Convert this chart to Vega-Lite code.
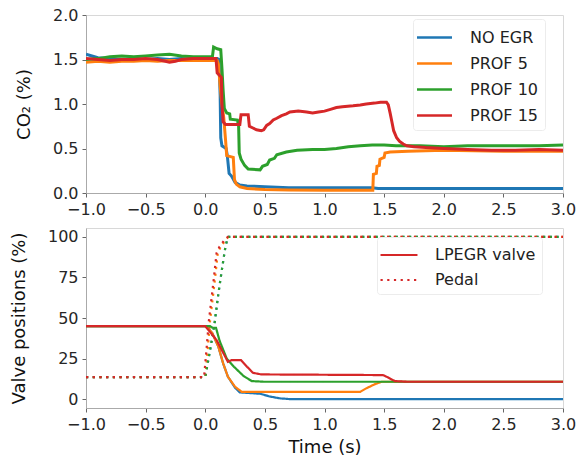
{
  "$schema": "https://vega.github.io/schema/vega-lite/v6.json",
  "padding": {"left": 9, "top": 6, "right": 10, "bottom": 5},
  "background": "white",
  "config": {
    "font": "DejaVu Sans",
    "view": {"stroke": "#d8d8d8", "strokeWidth": 1},
    "axis": {"grid": false, "domainColor": "#aaaaaa", "tickColor": "#666666", "tickSize": 4, "labelFontSize": 16, "labelColor": "#262626", "titleFontSize": 18, "titleFontWeight": "normal", "titleColor": "#111111", "labelPadding": 4, "titlePadding": 19, "labelFlush": false, "labelOverlap": false},
    "legend": {"orient": "none", "title": null, "labelFontSize": 16, "labelColor": "#222222", "strokeColor": "#ececec", "fillColor": "white", "padding": 6, "cornerRadius": 3, "rowPadding": 5, "symbolSize": 484, "symbolType": "M-1.59,0H1.59", "symbolOffset": 3, "labelOffset": 23}
  },
  "datasets": {
    "co2": [
      {"t": -1.0, "v": 1.56, "s": "NO EGR"}, {"t": -0.95, "v": 1.54, "s": "NO EGR"}, {"t": -0.9, "v": 1.52, "s": "NO EGR"}, {"t": -0.8, "v": 1.51, "s": "NO EGR"}, {"t": -0.7, "v": 1.50, "s": "NO EGR"}, {"t": -0.6, "v": 1.51, "s": "NO EGR"}, {"t": -0.5, "v": 1.50, "s": "NO EGR"}, {"t": -0.4, "v": 1.51, "s": "NO EGR"}, {"t": -0.3, "v": 1.50, "s": "NO EGR"}, {"t": -0.2, "v": 1.51, "s": "NO EGR"}, {"t": -0.1, "v": 1.50, "s": "NO EGR"}, {"t": 0.0, "v": 1.51, "s": "NO EGR"}, {"t": 0.1, "v": 1.51, "s": "NO EGR"}, {"t": 0.115, "v": 1.50, "s": "NO EGR"}, {"t": 0.125, "v": 1.10, "s": "NO EGR"}, {"t": 0.13, "v": 0.62, "s": "NO EGR"}, {"t": 0.14, "v": 0.53, "s": "NO EGR"}, {"t": 0.175, "v": 0.50, "s": "NO EGR"}, {"t": 0.185, "v": 0.42, "s": "NO EGR"}, {"t": 0.2, "v": 0.22, "s": "NO EGR"}, {"t": 0.22, "v": 0.19, "s": "NO EGR"}, {"t": 0.25, "v": 0.12, "s": "NO EGR"}, {"t": 0.29, "v": 0.09, "s": "NO EGR"}, {"t": 0.35, "v": 0.08, "s": "NO EGR"}, {"t": 0.5, "v": 0.07, "s": "NO EGR"}, {"t": 0.7, "v": 0.06, "s": "NO EGR"}, {"t": 1.0, "v": 0.06, "s": "NO EGR"}, {"t": 1.4, "v": 0.06, "s": "NO EGR"}, {"t": 1.45, "v": 0.05, "s": "NO EGR"}, {"t": 2.0, "v": 0.05, "s": "NO EGR"}, {"t": 2.5, "v": 0.05, "s": "NO EGR"}, {"t": 3.0, "v": 0.05, "s": "NO EGR"},
      {"t": -1.0, "v": 1.47, "s": "PROF 5"}, {"t": -0.9, "v": 1.48, "s": "PROF 5"}, {"t": -0.8, "v": 1.47, "s": "PROF 5"}, {"t": -0.7, "v": 1.48, "s": "PROF 5"}, {"t": -0.6, "v": 1.48, "s": "PROF 5"}, {"t": -0.5, "v": 1.49, "s": "PROF 5"}, {"t": -0.4, "v": 1.48, "s": "PROF 5"}, {"t": -0.3, "v": 1.49, "s": "PROF 5"}, {"t": -0.2, "v": 1.49, "s": "PROF 5"}, {"t": -0.1, "v": 1.49, "s": "PROF 5"}, {"t": 0.0, "v": 1.49, "s": "PROF 5"}, {"t": 0.1, "v": 1.49, "s": "PROF 5"}, {"t": 0.11, "v": 1.45, "s": "PROF 5"}, {"t": 0.125, "v": 1.20, "s": "PROF 5"}, {"t": 0.14, "v": 1.00, "s": "PROF 5"}, {"t": 0.155, "v": 0.85, "s": "PROF 5"}, {"t": 0.17, "v": 0.60, "s": "PROF 5"}, {"t": 0.18, "v": 0.42, "s": "PROF 5"}, {"t": 0.235, "v": 0.40, "s": "PROF 5"}, {"t": 0.245, "v": 0.15, "s": "PROF 5"}, {"t": 0.26, "v": 0.10, "s": "PROF 5"}, {"t": 0.29, "v": 0.07, "s": "PROF 5"}, {"t": 0.35, "v": 0.05, "s": "PROF 5"}, {"t": 0.5, "v": 0.04, "s": "PROF 5"}, {"t": 0.7, "v": 0.035, "s": "PROF 5"}, {"t": 1.0, "v": 0.03, "s": "PROF 5"}, {"t": 1.405, "v": 0.03, "s": "PROF 5"}, {"t": 1.41, "v": 0.21, "s": "PROF 5"}, {"t": 1.435, "v": 0.22, "s": "PROF 5"}, {"t": 1.44, "v": 0.30, "s": "PROF 5"}, {"t": 1.46, "v": 0.31, "s": "PROF 5"}, {"t": 1.465, "v": 0.38, "s": "PROF 5"}, {"t": 1.5, "v": 0.40, "s": "PROF 5"}, {"t": 1.507, "v": 0.45, "s": "PROF 5"}, {"t": 1.55, "v": 0.46, "s": "PROF 5"}, {"t": 1.7, "v": 0.47, "s": "PROF 5"}, {"t": 2.0, "v": 0.48, "s": "PROF 5"}, {"t": 2.5, "v": 0.47, "s": "PROF 5"}, {"t": 3.0, "v": 0.47, "s": "PROF 5"},
      {"t": -1.0, "v": 1.50, "s": "PROF 10"}, {"t": -0.9, "v": 1.51, "s": "PROF 10"}, {"t": -0.8, "v": 1.53, "s": "PROF 10"}, {"t": -0.7, "v": 1.54, "s": "PROF 10"}, {"t": -0.6, "v": 1.53, "s": "PROF 10"}, {"t": -0.5, "v": 1.54, "s": "PROF 10"}, {"t": -0.4, "v": 1.55, "s": "PROF 10"}, {"t": -0.3, "v": 1.56, "s": "PROF 10"}, {"t": -0.2, "v": 1.54, "s": "PROF 10"}, {"t": -0.1, "v": 1.53, "s": "PROF 10"}, {"t": 0.0, "v": 1.53, "s": "PROF 10"}, {"t": 0.06, "v": 1.53, "s": "PROF 10"}, {"t": 0.07, "v": 1.64, "s": "PROF 10"}, {"t": 0.1, "v": 1.62, "s": "PROF 10"}, {"t": 0.13, "v": 1.61, "s": "PROF 10"}, {"t": 0.14, "v": 1.40, "s": "PROF 10"}, {"t": 0.15, "v": 1.15, "s": "PROF 10"}, {"t": 0.16, "v": 0.95, "s": "PROF 10"}, {"t": 0.18, "v": 0.90, "s": "PROF 10"}, {"t": 0.205, "v": 0.89, "s": "PROF 10"}, {"t": 0.21, "v": 0.83, "s": "PROF 10"}, {"t": 0.27, "v": 0.82, "s": "PROF 10"}, {"t": 0.28, "v": 0.75, "s": "PROF 10"}, {"t": 0.285, "v": 0.45, "s": "PROF 10"}, {"t": 0.30, "v": 0.38, "s": "PROF 10"}, {"t": 0.33, "v": 0.31, "s": "PROF 10"}, {"t": 0.36, "v": 0.27, "s": "PROF 10"}, {"t": 0.46, "v": 0.26, "s": "PROF 10"}, {"t": 0.48, "v": 0.30, "s": "PROF 10"}, {"t": 0.52, "v": 0.32, "s": "PROF 10"}, {"t": 0.54, "v": 0.37, "s": "PROF 10"}, {"t": 0.58, "v": 0.39, "s": "PROF 10"}, {"t": 0.6, "v": 0.43, "s": "PROF 10"}, {"t": 0.68, "v": 0.46, "s": "PROF 10"}, {"t": 0.77, "v": 0.48, "s": "PROF 10"}, {"t": 0.9, "v": 0.49, "s": "PROF 10"}, {"t": 1.0, "v": 0.49, "s": "PROF 10"}, {"t": 1.1, "v": 0.50, "s": "PROF 10"}, {"t": 1.2, "v": 0.52, "s": "PROF 10"}, {"t": 1.3, "v": 0.53, "s": "PROF 10"}, {"t": 1.4, "v": 0.54, "s": "PROF 10"}, {"t": 1.5, "v": 0.54, "s": "PROF 10"}, {"t": 1.6, "v": 0.53, "s": "PROF 10"}, {"t": 1.8, "v": 0.53, "s": "PROF 10"}, {"t": 2.0, "v": 0.52, "s": "PROF 10"}, {"t": 2.2, "v": 0.53, "s": "PROF 10"}, {"t": 2.5, "v": 0.53, "s": "PROF 10"}, {"t": 2.8, "v": 0.53, "s": "PROF 10"}, {"t": 3.0, "v": 0.54, "s": "PROF 10"},
      {"t": -1.0, "v": 1.51, "s": "PROF 15"}, {"t": -0.9, "v": 1.50, "s": "PROF 15"}, {"t": -0.8, "v": 1.49, "s": "PROF 15"}, {"t": -0.7, "v": 1.50, "s": "PROF 15"}, {"t": -0.6, "v": 1.50, "s": "PROF 15"}, {"t": -0.5, "v": 1.51, "s": "PROF 15"}, {"t": -0.4, "v": 1.50, "s": "PROF 15"}, {"t": -0.3, "v": 1.47, "s": "PROF 15"}, {"t": -0.25, "v": 1.48, "s": "PROF 15"}, {"t": -0.2, "v": 1.50, "s": "PROF 15"}, {"t": -0.1, "v": 1.51, "s": "PROF 15"}, {"t": 0.0, "v": 1.51, "s": "PROF 15"}, {"t": 0.09, "v": 1.51, "s": "PROF 15"}, {"t": 0.1, "v": 1.35, "s": "PROF 15"}, {"t": 0.12, "v": 1.32, "s": "PROF 15"}, {"t": 0.135, "v": 1.30, "s": "PROF 15"}, {"t": 0.14, "v": 1.00, "s": "PROF 15"}, {"t": 0.15, "v": 0.80, "s": "PROF 15"}, {"t": 0.17, "v": 0.77, "s": "PROF 15"}, {"t": 0.29, "v": 0.77, "s": "PROF 15"}, {"t": 0.30, "v": 0.88, "s": "PROF 15"}, {"t": 0.36, "v": 0.88, "s": "PROF 15"}, {"t": 0.37, "v": 0.75, "s": "PROF 15"}, {"t": 0.40, "v": 0.73, "s": "PROF 15"}, {"t": 0.43, "v": 0.71, "s": "PROF 15"}, {"t": 0.47, "v": 0.70, "s": "PROF 15"}, {"t": 0.49, "v": 0.71, "s": "PROF 15"}, {"t": 0.515, "v": 0.76, "s": "PROF 15"}, {"t": 0.54, "v": 0.78, "s": "PROF 15"}, {"t": 0.57, "v": 0.82, "s": "PROF 15"}, {"t": 0.60, "v": 0.84, "s": "PROF 15"}, {"t": 0.64, "v": 0.87, "s": "PROF 15"}, {"t": 0.68, "v": 0.89, "s": "PROF 15"}, {"t": 0.71, "v": 0.91, "s": "PROF 15"}, {"t": 0.78, "v": 0.92, "s": "PROF 15"}, {"t": 0.85, "v": 0.91, "s": "PROF 15"}, {"t": 0.9, "v": 0.90, "s": "PROF 15"}, {"t": 0.95, "v": 0.91, "s": "PROF 15"}, {"t": 1.0, "v": 0.92, "s": "PROF 15"}, {"t": 1.05, "v": 0.94, "s": "PROF 15"}, {"t": 1.1, "v": 0.96, "s": "PROF 15"}, {"t": 1.15, "v": 0.97, "s": "PROF 15"}, {"t": 1.24, "v": 0.98, "s": "PROF 15"}, {"t": 1.3, "v": 0.99, "s": "PROF 15"}, {"t": 1.35, "v": 1.00, "s": "PROF 15"}, {"t": 1.42, "v": 1.01, "s": "PROF 15"}, {"t": 1.47, "v": 1.02, "s": "PROF 15"}, {"t": 1.52, "v": 1.02, "s": "PROF 15"}, {"t": 1.535, "v": 0.99, "s": "PROF 15"}, {"t": 1.55, "v": 0.90, "s": "PROF 15"}, {"t": 1.565, "v": 0.80, "s": "PROF 15"}, {"t": 1.58, "v": 0.70, "s": "PROF 15"}, {"t": 1.605, "v": 0.62, "s": "PROF 15"}, {"t": 1.63, "v": 0.58, "s": "PROF 15"}, {"t": 1.66, "v": 0.55, "s": "PROF 15"}, {"t": 1.69, "v": 0.53, "s": "PROF 15"}, {"t": 1.75, "v": 0.52, "s": "PROF 15"}, {"t": 1.85, "v": 0.51, "s": "PROF 15"}, {"t": 2.0, "v": 0.50, "s": "PROF 15"}, {"t": 2.2, "v": 0.49, "s": "PROF 15"}, {"t": 2.4, "v": 0.48, "s": "PROF 15"}, {"t": 2.6, "v": 0.48, "s": "PROF 15"}, {"t": 2.8, "v": 0.49, "s": "PROF 15"}, {"t": 3.0, "v": 0.48, "s": "PROF 15"}
    ],
    "valve": [
      {"t": -1.0, "v": 13.5, "s": "NO EGR", "k": "Pedal"}, {"t": 0.0, "v": 13.5, "s": "NO EGR", "k": "Pedal"}, {"t": 0.04, "v": 30, "s": "NO EGR", "k": "Pedal"}, {"t": 0.075, "v": 45, "s": "NO EGR", "k": "Pedal"}, {"t": 0.11, "v": 65, "s": "NO EGR", "k": "Pedal"}, {"t": 0.14, "v": 80, "s": "NO EGR", "k": "Pedal"}, {"t": 0.165, "v": 92, "s": "NO EGR", "k": "Pedal"}, {"t": 0.185, "v": 99, "s": "NO EGR", "k": "Pedal"}, {"t": 0.195, "v": 100, "s": "NO EGR", "k": "Pedal"}, {"t": 3.0, "v": 100, "s": "NO EGR", "k": "Pedal"},
      {"t": -1.0, "v": 13.5, "s": "PROF 5", "k": "Pedal"}, {"t": 0.0, "v": 13.5, "s": "PROF 5", "k": "Pedal"}, {"t": 0.02, "v": 30, "s": "PROF 5", "k": "Pedal"}, {"t": 0.04, "v": 48, "s": "PROF 5", "k": "Pedal"}, {"t": 0.08, "v": 73, "s": "PROF 5", "k": "Pedal"}, {"t": 0.105, "v": 90, "s": "PROF 5", "k": "Pedal"}, {"t": 0.13, "v": 94, "s": "PROF 5", "k": "Pedal"}, {"t": 0.18, "v": 99, "s": "PROF 5", "k": "Pedal"}, {"t": 0.195, "v": 100, "s": "PROF 5", "k": "Pedal"}, {"t": 3.0, "v": 100, "s": "PROF 5", "k": "Pedal"},
      {"t": -1.0, "v": 13.5, "s": "PROF 10", "k": "Pedal"}, {"t": 0.0, "v": 13.5, "s": "PROF 10", "k": "Pedal"}, {"t": 0.04, "v": 30, "s": "PROF 10", "k": "Pedal"}, {"t": 0.075, "v": 45, "s": "PROF 10", "k": "Pedal"}, {"t": 0.11, "v": 65, "s": "PROF 10", "k": "Pedal"}, {"t": 0.14, "v": 80, "s": "PROF 10", "k": "Pedal"}, {"t": 0.165, "v": 92, "s": "PROF 10", "k": "Pedal"}, {"t": 0.185, "v": 99, "s": "PROF 10", "k": "Pedal"}, {"t": 0.195, "v": 100, "s": "PROF 10", "k": "Pedal"}, {"t": 3.0, "v": 100, "s": "PROF 10", "k": "Pedal"},
      {"t": -1.0, "v": 13.5, "s": "PROF 15", "k": "Pedal"}, {"t": -0.01, "v": 13.5, "s": "PROF 15", "k": "Pedal"}, {"t": 0.01, "v": 30, "s": "PROF 15", "k": "Pedal"}, {"t": 0.03, "v": 48, "s": "PROF 15", "k": "Pedal"}, {"t": 0.07, "v": 73, "s": "PROF 15", "k": "Pedal"}, {"t": 0.095, "v": 90, "s": "PROF 15", "k": "Pedal"}, {"t": 0.12, "v": 94, "s": "PROF 15", "k": "Pedal"}, {"t": 0.17, "v": 99, "s": "PROF 15", "k": "Pedal"}, {"t": 0.19, "v": 100, "s": "PROF 15", "k": "Pedal"}, {"t": 3.0, "v": 100, "s": "PROF 15", "k": "Pedal"},
      {"t": -1.0, "v": 45, "s": "NO EGR", "k": "LPEGR valve"}, {"t": 0.01, "v": 45, "s": "NO EGR", "k": "LPEGR valve"}, {"t": 0.06, "v": 40.5, "s": "NO EGR", "k": "LPEGR valve"}, {"t": 0.11, "v": 32.3, "s": "NO EGR", "k": "LPEGR valve"}, {"t": 0.15, "v": 22, "s": "NO EGR", "k": "LPEGR valve"}, {"t": 0.19, "v": 13.8, "s": "NO EGR", "k": "LPEGR valve"}, {"t": 0.25, "v": 7, "s": "NO EGR", "k": "LPEGR valve"}, {"t": 0.29, "v": 4.1, "s": "NO EGR", "k": "LPEGR valve"}, {"t": 0.46, "v": 3.3, "s": "NO EGR", "k": "LPEGR valve"}, {"t": 0.54, "v": 1.6, "s": "NO EGR", "k": "LPEGR valve"}, {"t": 0.63, "v": 0.4, "s": "NO EGR", "k": "LPEGR valve"}, {"t": 0.71, "v": 0, "s": "NO EGR", "k": "LPEGR valve"}, {"t": 3.0, "v": 0, "s": "NO EGR", "k": "LPEGR valve"},
      {"t": -1.0, "v": 45, "s": "PROF 5", "k": "LPEGR valve"}, {"t": 0.01, "v": 45, "s": "PROF 5", "k": "LPEGR valve"}, {"t": 0.06, "v": 40.5, "s": "PROF 5", "k": "LPEGR valve"}, {"t": 0.11, "v": 32.3, "s": "PROF 5", "k": "LPEGR valve"}, {"t": 0.15, "v": 22, "s": "PROF 5", "k": "LPEGR valve"}, {"t": 0.19, "v": 13.8, "s": "PROF 5", "k": "LPEGR valve"}, {"t": 0.25, "v": 7.6, "s": "PROF 5", "k": "LPEGR valve"}, {"t": 0.305, "v": 4.5, "s": "PROF 5", "k": "LPEGR valve"}, {"t": 1.3, "v": 4.5, "s": "PROF 5", "k": "LPEGR valve"}, {"t": 1.35, "v": 6.6, "s": "PROF 5", "k": "LPEGR valve"}, {"t": 1.42, "v": 9.1, "s": "PROF 5", "k": "LPEGR valve"}, {"t": 1.48, "v": 10.7, "s": "PROF 5", "k": "LPEGR valve"}, {"t": 3.0, "v": 10.7, "s": "PROF 5", "k": "LPEGR valve"},
      {"t": -1.0, "v": 45, "s": "PROF 10", "k": "LPEGR valve"}, {"t": 0.04, "v": 45, "s": "PROF 10", "k": "LPEGR valve"}, {"t": 0.06, "v": 44, "s": "PROF 10", "k": "LPEGR valve"}, {"t": 0.09, "v": 44, "s": "PROF 10", "k": "LPEGR valve"}, {"t": 0.12, "v": 36, "s": "PROF 10", "k": "LPEGR valve"}, {"t": 0.18, "v": 25, "s": "PROF 10", "k": "LPEGR valve"}, {"t": 0.24, "v": 20, "s": "PROF 10", "k": "LPEGR valve"}, {"t": 0.32, "v": 14.3, "s": "PROF 10", "k": "LPEGR valve"}, {"t": 0.39, "v": 11.1, "s": "PROF 10", "k": "LPEGR valve"}, {"t": 0.49, "v": 10.7, "s": "PROF 10", "k": "LPEGR valve"}, {"t": 3.0, "v": 10.7, "s": "PROF 10", "k": "LPEGR valve"},
      {"t": -1.0, "v": 45, "s": "PROF 15", "k": "LPEGR valve"}, {"t": 0.0, "v": 45, "s": "PROF 15", "k": "LPEGR valve"}, {"t": 0.05, "v": 40.5, "s": "PROF 15", "k": "LPEGR valve"}, {"t": 0.095, "v": 36.4, "s": "PROF 15", "k": "LPEGR valve"}, {"t": 0.14, "v": 30, "s": "PROF 15", "k": "LPEGR valve"}, {"t": 0.19, "v": 23, "s": "PROF 15", "k": "LPEGR valve"}, {"t": 0.22, "v": 24, "s": "PROF 15", "k": "LPEGR valve"}, {"t": 0.30, "v": 24, "s": "PROF 15", "k": "LPEGR valve"}, {"t": 0.35, "v": 20, "s": "PROF 15", "k": "LPEGR valve"}, {"t": 0.40, "v": 16.2, "s": "PROF 15", "k": "LPEGR valve"}, {"t": 0.47, "v": 15.2, "s": "PROF 15", "k": "LPEGR valve"}, {"t": 1.0, "v": 15, "s": "PROF 15", "k": "LPEGR valve"}, {"t": 1.49, "v": 14.8, "s": "PROF 15", "k": "LPEGR valve"}, {"t": 1.52, "v": 13.8, "s": "PROF 15", "k": "LPEGR valve"}, {"t": 1.59, "v": 11.1, "s": "PROF 15", "k": "LPEGR valve"}, {"t": 1.69, "v": 10.7, "s": "PROF 15", "k": "LPEGR valve"}, {"t": 3.0, "v": 10.7, "s": "PROF 15", "k": "LPEGR valve"}
    ]
  },
  "spacing": 9,
  "resolve": {"scale": {"color": "independent", "strokeDash": "independent"}, "legend": {"color": "independent", "strokeDash": "independent"}},
  "vconcat": [
    {
      "width": 477,
      "height": 178,
      "data": {"name": "co2"},
      "mark": {"type": "line", "strokeWidth": 3, "clip": true},
      "encoding": {
        "x": {"field": "t", "type": "quantitative", "scale": {"domain": [-1, 3], "nice": false, "zero": false}, "axis": {"values": [-1, -0.5, 0, 0.5, 1, 1.5, 2, 2.5, 3], "format": ".1f", "title": null}},
        "y": {"field": "v", "type": "quantitative", "scale": {"domain": [0, 2], "nice": false}, "axis": {"values": [0, 0.5, 1, 1.5, 2], "format": ".1f", "title": "CO₂ (%)"}},
        "color": {"field": "s", "type": "nominal", "sort": null, "scale": {"domain": ["NO EGR", "PROF 5", "PROF 10", "PROF 15"], "range": ["#1f77b4", "#ff7f0e", "#2ca02c", "#d62728"]}, "legend": {"legendX": 327, "legendY": 4, "symbolStrokeWidth": 2.5}}
      }
    },
    {
      "width": 477,
      "height": 180,
      "data": {"name": "valve"},
      "mark": {"type": "line", "strokeWidth": 2.2, "clip": true},
      "encoding": {
        "x": {"field": "t", "type": "quantitative", "scale": {"domain": [-1, 3], "nice": false, "zero": false}, "axis": {"values": [-1, -0.5, 0, 0.5, 1, 1.5, 2, 2.5, 3], "format": ".1f", "title": "Time (s)", "titlePadding": 6}},
        "y": {"field": "v", "type": "quantitative", "scale": {"domain": [-5.5, 105.5], "nice": false, "zero": false}, "axis": {"values": [0, 25, 50, 75, 100], "title": "Valve positions (%)"}},
        "color": {"field": "s", "type": "nominal", "sort": null, "scale": {"domain": ["NO EGR", "PROF 5", "PROF 10", "PROF 15"], "range": ["#1f77b4", "#ff7f0e", "#2ca02c", "#d62728"]}, "legend": null},
        "strokeDash": {"field": "k", "type": "nominal", "sort": null, "scale": {"domain": ["LPEGR valve", "Pedal"], "range": [[1, 0], [2.2, 4.5]]}, "legend": {"legendX": 291, "legendY": 9, "symbolStrokeColor": "#d62728", "symbolStrokeWidth": 2, "symbolType": "M-1.68,0H1.68", "symbolOffset": 4, "labelOffset": 24}}
      }
    }
  ]
}
